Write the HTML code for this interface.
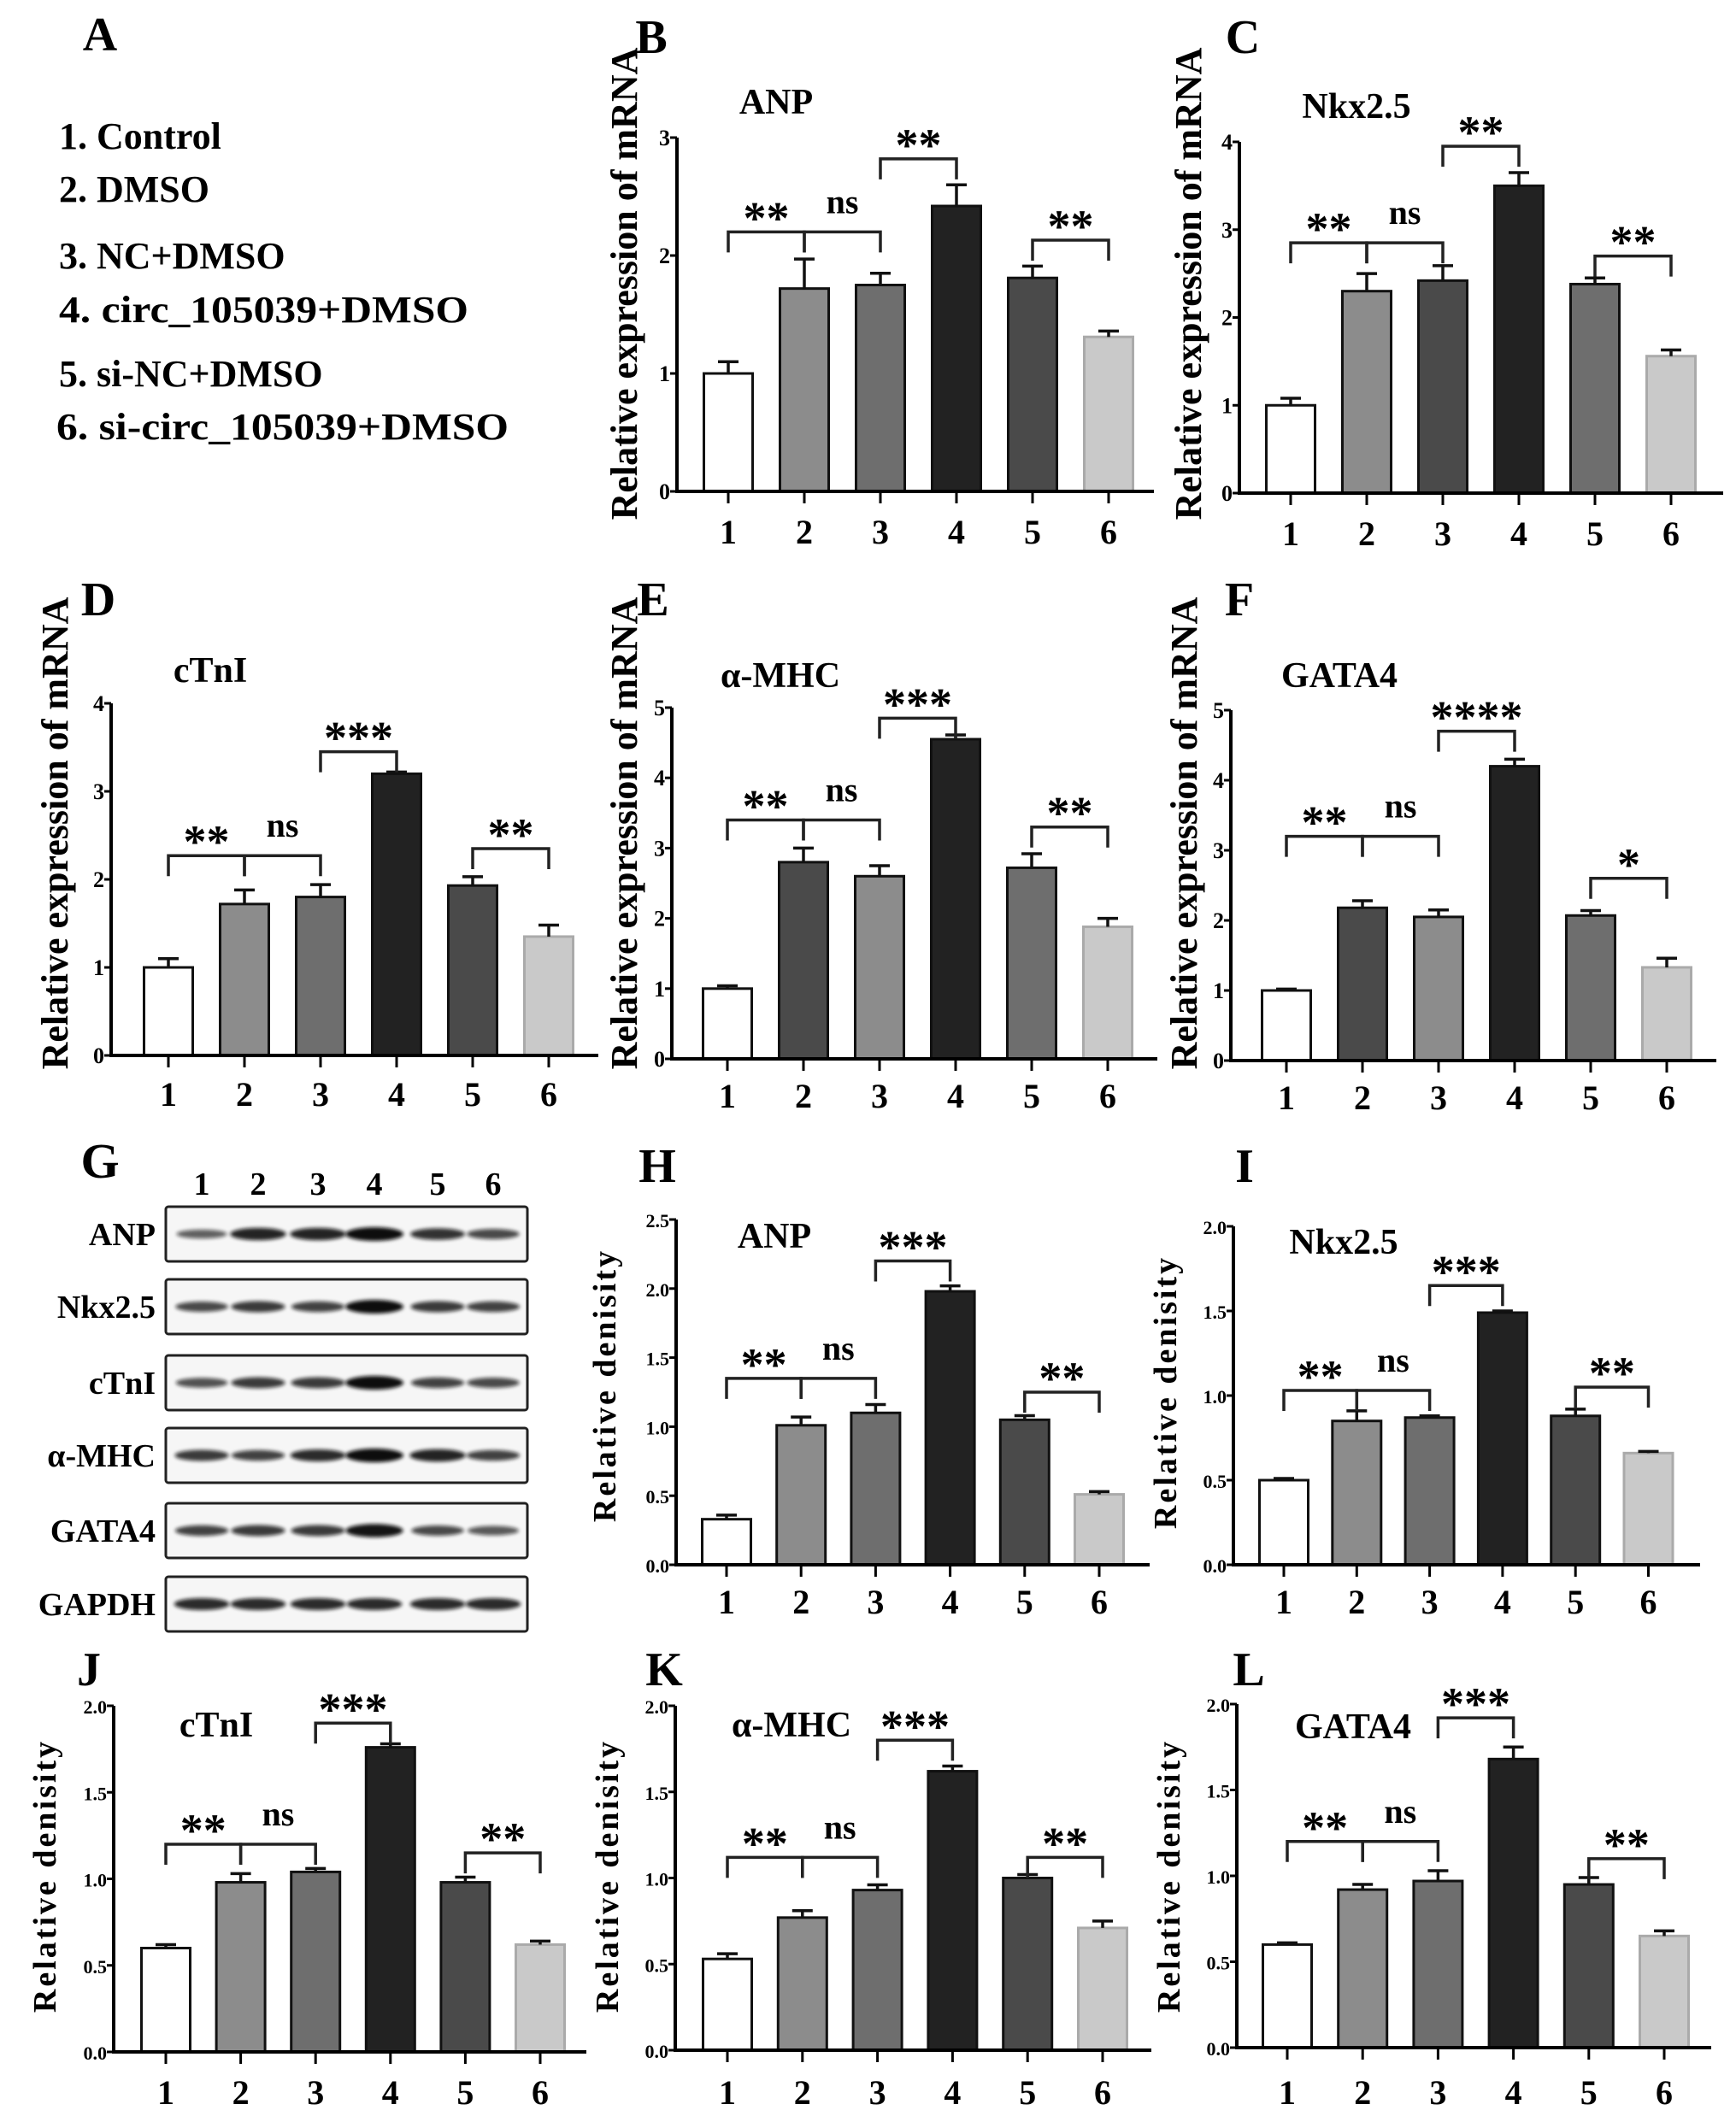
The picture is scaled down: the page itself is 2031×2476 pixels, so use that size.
<!DOCTYPE html>
<html><head><meta charset="utf-8"><style>
html,body{margin:0;padding:0;background:#fff}
svg{display:block}
text{font-family:"Liberation Serif",serif;font-weight:bold;fill:#000}
</style></head><body>
<svg id="fig" width="2031" height="2476" viewBox="0 0 2031 2476">
<defs><filter id="blur" x="-20%" y="-200%" width="140%" height="500%"><feGaussianBlur stdDeviation="2.2"/></filter></defs>
<g>
<text x="117" y="59" font-size="56" text-anchor="middle">A</text>
<text x="69" y="174" font-size="44">1. Control</text>
<text x="69" y="236" font-size="44">2. DMSO</text>
<text x="69" y="314" font-size="44">3. NC+DMSO</text>
<text x="69" y="377" font-size="44" textLength="479" lengthAdjust="spacingAndGlyphs">4. circ_105039+DMSO</text>
<text x="69" y="452" font-size="44">5. si-NC+DMSO</text>
<text x="66" y="514" font-size="44" textLength="529" lengthAdjust="spacingAndGlyphs">6. si-circ_105039+DMSO</text>
</g>
<g id="blot"></g>
<g id="charts"></g>
</svg>
<script>
const categories = ["1","2","3","4","5","6"];
// B ANP mRNA
const bValues = [1.0, 1.72, 1.75, 2.42, 1.81, 1.31];
const bErrors = [0.1, 0.25, 0.1, 0.18, 0.1, 0.05];
const bBrackets = [[0,1,2.2,"**"],[1,2,2.2,"ns"],[2,3,2.82,"**"],[4,5,2.13,"**"]];
// C Nkx2.5 mRNA
const cValues = [1.0, 2.3, 2.42, 3.5, 2.38, 1.56];
const cErrors = [0.08, 0.2, 0.17, 0.15, 0.07, 0.07];
const cBrackets = [[0,1,2.85,"**"],[1,2,2.85,"ns"],[2,3,3.95,"**"],[4,5,2.7,"**"]];
// D cTnI mRNA
const dValues = [1.0, 1.72, 1.8, 3.2, 1.93, 1.35];
const dErrors = [0.1, 0.16, 0.14, 0.02, 0.1, 0.13];
const dBrackets = [[0,1,2.27,"**"],[1,2,2.27,"ns"],[2,3,3.45,"***"],[4,5,2.35,"**"]];
// E a-MHC mRNA
const eValues = [1.0, 2.8, 2.6, 4.55, 2.72, 1.88];
const eErrors = [0.04, 0.2, 0.15, 0.06, 0.2, 0.12];
const eBrackets = [[0,1,3.4,"**"],[1,2,3.4,"ns"],[2,3,4.85,"***"],[4,5,3.3,"**"]];
// F GATA4 mRNA
const fValues = [1.0, 2.18, 2.05, 4.2, 2.07, 1.33];
const fErrors = [0.02, 0.1, 0.1, 0.1, 0.07, 0.13];
const fBrackets = [[0,1,3.2,"**"],[1,2,3.2,"ns"],[2,3,4.7,"****"],[4,5,2.6,"*"]];
// H ANP density
const hValues = [0.33, 1.01, 1.1, 1.98, 1.05, 0.51];
const hErrors = [0.03, 0.06, 0.06, 0.04, 0.03, 0.02];
const hBrackets = [[0,1,1.35,"**"],[1,2,1.35,"ns"],[2,3,2.2,"***"],[4,5,1.25,"**"]];
// I Nkx2.5 density
const iValues = [0.5, 0.85, 0.87, 1.49, 0.88, 0.66];
const iErrors = [0.01, 0.06, 0.01, 0.01, 0.04, 0.01];
const iBrackets = [[0,1,1.03,"**"],[1,2,1.03,"ns"],[2,3,1.65,"***"],[4,5,1.05,"**"]];
// J cTnI density
const jValues = [0.6, 0.98, 1.04, 1.76, 0.98, 0.62];
const jErrors = [0.02, 0.05, 0.02, 0.02, 0.03, 0.02];
const jBrackets = [[0,1,1.2,"**"],[1,2,1.2,"ns"],[2,3,1.9,"***"],[4,5,1.15,"**"]];
// K a-MHC density
const kValues = [0.53, 0.77, 0.93, 1.62, 1.0, 0.71];
const kErrors = [0.03, 0.04, 0.03, 0.03, 0.02, 0.04];
const kBrackets = [[0,1,1.12,"**"],[1,2,1.12,"ns"],[2,3,1.8,"***"],[4,5,1.12,"**"]];
// L GATA4 density
const lValues = [0.6, 0.92, 0.97, 1.68, 0.95, 0.65];
const lErrors = [0.01, 0.03, 0.06, 0.07, 0.04, 0.03];
const lBrackets = [[0,1,1.2,"**"],[1,2,1.2,"ns"],[2,3,1.92,"***"],[4,5,1.1,"**"]];
const intTicks5 = ["0","1","2","3","4","5"];
const decTicks = ["0.0","0.5","1.0","1.5","2.0","2.5"];
// Western blot
const blotRows = ["ANP","Nkx2.5","cTnI","α-MHC","GATA4","GAPDH"];
const blotIntensity = [
 [0.45,0.85,0.85,1.0,0.75,0.6],
 [0.6,0.7,0.65,1.0,0.7,0.65],
 [0.55,0.7,0.7,1.0,0.65,0.6],
 [0.7,0.65,0.8,1.0,0.85,0.65],
 [0.65,0.7,0.7,0.95,0.6,0.5],
 [0.8,0.8,0.8,0.8,0.8,0.8]
];

const NS = "http://www.w3.org/2000/svg";
function mk(parent, tag, attrs, txt){
  const e = document.createElementNS(NS, tag);
  for (const k in attrs) e.setAttribute(k, attrs[k]);
  if (txt !== undefined) e.textContent = txt;
  parent.appendChild(e);
  return e;
}
const C1 = ["#ffffff","#8c8c8c","#6e6e6e","#222222","#4a4a4a","#c9c9c9"];
const C2 = ["#ffffff","#8c8c8c","#4a4a4a","#222222","#6e6e6e","#c9c9c9"];
const C3 = ["#ffffff","#4a4a4a","#8c8c8c","#222222","#6e6e6e","#c9c9c9"];

const panels = [
 {id:"b",letter:"B",lx:762,ly:62,title:"ANP",tx:908,ty:133,ax:792,y0:575,yt:161,ymax:3,step:1,ticks:intTicks5,x0:852,dx:89,xe:1350,vals:bValues,errs:bErrors,br:bBrackets,col:C1,ylab:"Relative expression of mRNA",ylx:745,yly:332,yfs:44,xly:636,leg:26},
 {id:"c",letter:"C",lx:1454,ly:62,title:"Nkx2.5",tx:1587,ty:138,ax:1450,y0:577,yt:166,ymax:4,step:1,ticks:intTicks5,x0:1510,dx:89,xe:2016,vals:cValues,errs:cErrors,br:cBrackets,col:C2,ylab:"Relative expression of mRNA",ylx:1405,yly:332,yfs:44,xly:638,leg:26},
 {id:"d",letter:"D",lx:115,ly:720,title:"cTnI",tx:246,ty:798,ax:130,y0:1235,yt:823,ymax:4,step:1,ticks:intTicks5,x0:197,dx:89,xe:700,vals:dValues,errs:dErrors,br:dBrackets,col:C1,ylab:"Relative expression of mRNA",ylx:79,yly:975,yfs:44,xly:1294,leg:26},
 {id:"e",letter:"E",lx:764,ly:720,title:"α-MHC",tx:913,ty:804,ax:786,y0:1239,yt:828,ymax:5,step:1,ticks:intTicks5,x0:851,dx:89,xe:1354,vals:eValues,errs:eErrors,br:eBrackets,col:C3,ylab:"Relative expression of mRNA",ylx:745,yly:975,yfs:44,xly:1296,leg:26},
 {id:"f",letter:"F",lx:1450,ly:720,title:"GATA4",tx:1567,ty:804,ax:1440,y0:1241,yt:831,ymax:5,step:1,ticks:intTicks5,x0:1505,dx:89,xe:2008,vals:fValues,errs:fErrors,br:fBrackets,col:C3,ylab:"Relative expression of mRNA",ylx:1400,yly:975,yfs:44,xly:1298,leg:26},
 {id:"h",letter:"H",lx:769,ly:1383,title:"ANP",tx:906,ty:1460,ax:791,y0:1831,yt:1427,ymax:2.5,step:0.5,ticks:decTicks,x0:850,dx:87.2,xe:1345,vals:hValues,errs:hErrors,br:hBrackets,col:C1,ylab:"Relative denisity",ylx:720,yly:1621,yfs:38,xly:1888,leg:22},
 {id:"i",letter:"I",lx:1456,ly:1383,title:"Nkx2.5",tx:1572,ty:1467,ax:1443,y0:1831,yt:1435,ymax:2.0,step:0.5,ticks:decTicks,x0:1502,dx:85.3,xe:1989,vals:iValues,errs:iErrors,br:iBrackets,col:C1,ylab:"Relative denisity",ylx:1376,yly:1629,yfs:38,xly:1888,leg:22},
 {id:"j",letter:"J",lx:104,ly:1972,title:"cTnI",tx:253,ty:2032,ax:133,y0:2401,yt:1996,ymax:2.0,step:0.5,ticks:decTicks,x0:194,dx:87.6,xe:686,vals:jValues,errs:jErrors,br:jBrackets,col:C1,ylab:"Relative denisity",ylx:65,yly:2195,yfs:38,xly:2462,leg:22},
 {id:"k",letter:"K",lx:777,ly:1972,title:"α-MHC",tx:926,ty:2032,ax:790,y0:2399,yt:1996,ymax:2.0,step:0.5,ticks:decTicks,x0:851,dx:87.8,xe:1347,vals:kValues,errs:kErrors,br:kBrackets,col:C1,ylab:"Relative denisity",ylx:723,yly:2195,yfs:38,xly:2462,leg:22},
 {id:"l",letter:"L",lx:1461,ly:1972,title:"GATA4",tx:1583,ty:2034,ax:1447,y0:2396,yt:1994,ymax:2.0,step:0.5,ticks:decTicks,x0:1506,dx:88.2,xe:2002,vals:lValues,errs:lErrors,br:lBrackets,col:C1,ylab:"Relative denisity",ylx:1380,yly:2195,yfs:38,xly:2462,leg:22}
];

const root = document.getElementById("charts");
panels.forEach(p => {
  const g = mk(root, "g", {});
  
  
  const yS = v => p.y0 - (v / p.ymax) * (p.y0 - p.yt);
  const xS = i => p.x0 + i * p.dx;
  const bw = 57;
  let t = mk(g, "text", {x:p.lx, y:p.ly, "font-size":56, "text-anchor":"middle"}, p.letter);
  
  
  t = mk(g, "text", {x:p.tx, y:p.ty, "font-size":42, "text-anchor":"middle"}, p.title);
  
  
  t = mk(g, "text", {x:0, y:0, "font-size":p.yfs, "text-anchor":"middle", "letter-spacing": p.yfs<40 ? 3 : 0, transform:`translate(${p.ylx},${p.yly}) rotate(-90)`}, p.ylab);
  
  
  p.vals.forEach((v, i) => {
    const cx = xS(i);
    const r = mk(g, "rect", {x:cx-bw/2, y:yS(v), width:bw, height:p.y0-yS(v), fill:p.col[i], stroke: i===5 ? "#aaa" : "#111", "stroke-width":3});
    
    
    const top = yS(v + p.errs[i]);
    const e = mk(g, "path", {d:`M${cx},${yS(v)} V${top} M${cx-12},${top} H${cx+12}`, stroke:"#111", "stroke-width":3.5, fill:"none"});
    
    
  });
  const ax = mk(g, "path", {d:`M${p.ax},${yS(p.ymax)} V${p.y0} H${p.xe}`, stroke:"#000", "stroke-width":4, fill:"none"});
  
  
  const nT = Math.round(p.ymax / p.step);
  for (let k = 0; k <= nT; k++) {
    const v = k * p.step, y = yS(v);
    mk(g, "line", {x1:p.ax-8, x2:p.ax, y1:y, y2:y, stroke:"#000", "stroke-width":3});
    const tl = mk(g, "text", {x:p.ax-8, y:y+9, "font-size":p.leg, "text-anchor":"end"}, p.ticks[k]);
    
    
  }
  categories.forEach((c, i) => {
    const cx = xS(i);
    mk(g, "line", {x1:cx, x2:cx, y1:p.y0, y2:p.y0+14, stroke:"#000", "stroke-width":3});
    const xl = mk(g, "text", {x:cx, y:p.xly, "font-size":40, "text-anchor":"middle"}, c);
    
    
  });
  p.br.forEach(b => {
    const xa = xS(b[0]), xb = xS(b[1]), y = yS(b[2]);
    const path = mk(g, "path", {d:`M${xa},${y+24} V${y} H${xb} V${y+24}`, stroke:"#222", "stroke-width":3.5, fill:"none"});
    
    
    const isNs = b[3] === "ns";
    const lab = mk(g, "text", {x:(xa+xb)/2, y: isNs ? y-22 : y+2, "font-size": isNs ? 40 : 54, "text-anchor":"middle", "font-family":"'Liberation Sans',sans-serif"}, b[3]);
    if (isNs) lab.setAttribute("font-family", "'Liberation Serif',serif");
    
    
  });
});

const blot = document.getElementById("blot");
let gl = mk(blot, "text", {x:117, y:1378, "font-size":58, "text-anchor":"middle"}, "G");


const laneX = [236, 302, 372, 438, 512, 577];
const rowTop = [1412, 1497, 1586, 1671, 1759, 1845];
categories.forEach((c, i) => {
  const t = mk(blot, "text", {x:laneX[i], y:1398, "font-size":38, "text-anchor":"middle"}, c);
  
  
});
blotRows.forEach((name, r) => {
  const y = rowTop[r], h = 64;
  const lab = mk(blot, "text", {x:182, y:y+h/2+13, "font-size":38, "text-anchor":"end"}, name);
  
  
  const box = mk(blot, "rect", {x:194, y:y, width:423, height:h, rx:3, fill:"#f6f6f6", stroke:"#222", "stroke-width":3});
  
  
  blotIntensity[r].forEach((v, i) => {
    const b = mk(blot, "ellipse", {cx:laneX[i], cy:y+h/2, rx:26+v*8, ry:3+v*5, fill:"#111", opacity:0.35+v*0.65, filter:"url(#blur)"});
    
    
  });
});
</script>
</body></html>
